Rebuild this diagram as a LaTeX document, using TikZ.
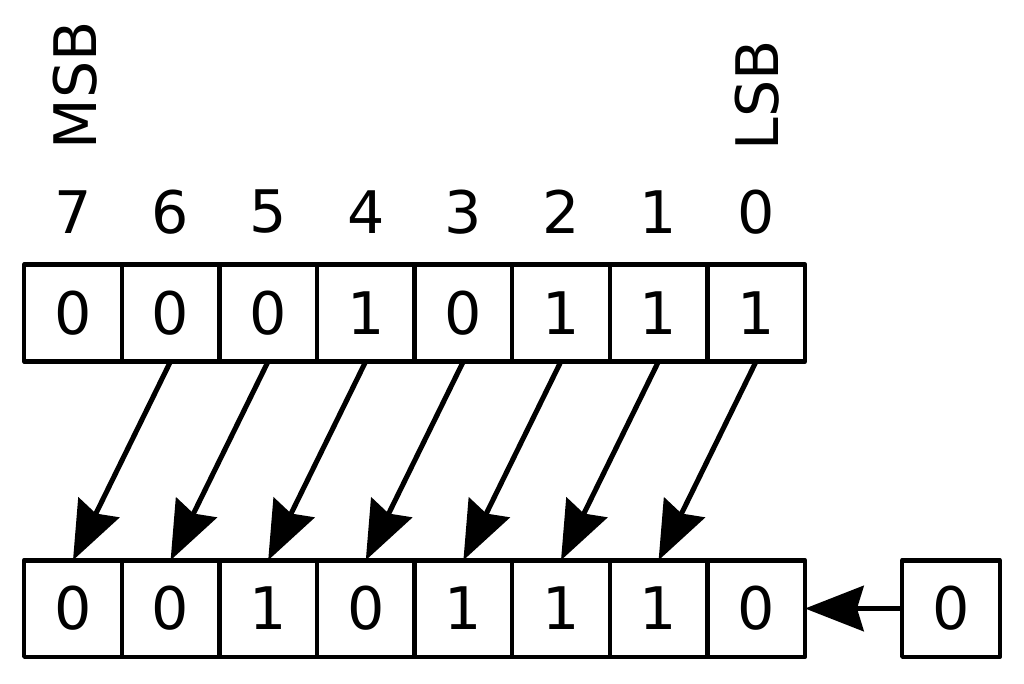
\documentclass[tikz,border=0pt]{standalone}
\usepackage{fontspec}
\setmainfont{DejaVu Sans}
\usetikzlibrary{arrows.meta}
\begin{document}
\begin{tikzpicture}[x=0.75pt,y=-0.75pt,
  bitbox/.style={draw,line width=3.4pt,line join=round,minimum width=73.2pt,minimum height=72.4pt,inner sep=0pt,outer sep=0pt,font=\fontsize{44}{50}\selectfont},
  lbl/.style={inner sep=0pt,font=\fontsize{44}{50}\selectfont},
  shiftarrow/.style={line width=3.8pt,-{Stealth[length=44pt,width=34pt,inset=5pt]}}]
\useasboundingbox (0,0) rectangle (1024,683);
\def\bw{97.6}
% top row
\foreach \v [count=\i from 0] in {0,0,0,1,0,1,1,1}{
  \pgfmathtruncatemacro\bit{7-\i}
  \node[bitbox] (t\bit) at ({73+\i*\bw},313) {\v};
  \node[lbl] (n\bit) at ({73+\i*\bw},212) {\bit};
}
% bottom row
\foreach \v [count=\i from 0] in {0,0,1,0,1,1,1,0}{
  \pgfmathtruncatemacro\bit{7-\i}
  \node[bitbox] (b\bit) at ({73+\i*\bw},608.5) {\v};
}
\node[bitbox] (z) at (951,608.5) {0};
\node[lbl,rotate=90] (msb) at (75,85) {MSB};
\node[lbl,rotate=90] (lsb) at (757,95) {LSB};
\foreach \i in {0,...,6}{
  \pgfmathtruncatemacro\j{\i+1}
  \draw[shiftarrow] (t\i.south) -- (b\j.north);
}
\draw[shiftarrow] (z.west) -- (b0.east);
\end{tikzpicture}
\end{document}
